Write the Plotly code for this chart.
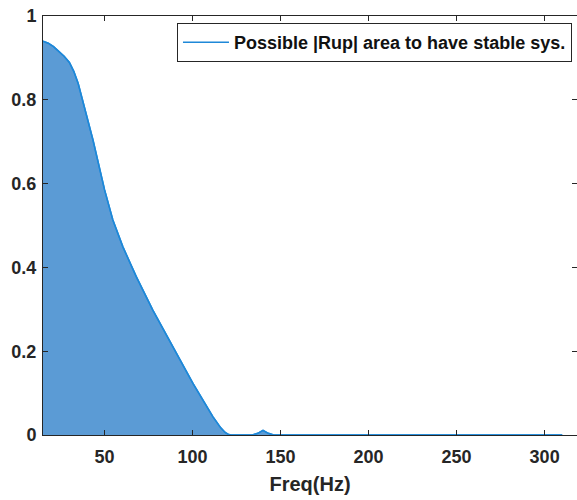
import plotly.graph_objects as go

# Data
freq_hz = [15, 18, 21, 24.4, 27, 30, 32.5, 35, 38.6, 43.4, 50, 54.7, 60.4, 68,
           77.4, 88.8, 100.2, 111.5, 116, 118.5, 120.5, 122, 134, 137, 140, 143,
           146, 200, 250, 300, 310]
rup_area = [0.94, 0.935, 0.927, 0.915, 0.904, 0.889, 0.868, 0.839, 0.784, 0.704,
            0.585, 0.513, 0.449, 0.378, 0.298, 0.211, 0.123, 0.044, 0.017, 0.006,
            0.001, 0.0, 0.0, 0.004, 0.011, 0.004, 0.0, 0.0, 0.0, 0.0, 0.0]
legend_label = "Possible |Rup| area to have stable sys."
x_ticks = [50, 100, 150, 200, 250, 300]
y_ticks = [0, 0.2, 0.4, 0.6, 0.8, 1]

LINE = "#1E88D8"
FILL = "#5B9BD5"
AX = "#262626"
FONT = "Liberation Sans, Arial, sans-serif"

fig = go.Figure()
fig.add_trace(go.Scatter(
    x=freq_hz, y=rup_area, mode="lines", fill="tozeroy",
    fillcolor=FILL, line=dict(color=LINE, width=1.5), showlegend=False,
    hoverinfo="skip"))
fig.add_trace(go.Scatter(
    x=freq_hz, y=rup_area, mode="lines", name=legend_label,
    line=dict(color=LINE, width=1.5), showlegend=True))

axis_common = dict(
    showline=True, linecolor=AX, linewidth=1, mirror="ticks",
    ticks="inside", ticklen=5, tickcolor=AX, tickwidth=1,
    showgrid=False, zeroline=False, automargin=False,
    tickfont=dict(family=FONT, size=18, color=AX, weight="bold"),
)

fig.update_layout(
    width=577, height=500,
    margin=dict(l=43, r=0, t=16, b=65),
    paper_bgcolor="white", plot_bgcolor="white",
    xaxis=dict(range=[15, 318.4], tickvals=x_ticks, ticklabelstandoff=5,
               title=dict(text="Freq(Hz)", standoff=11,
                          font=dict(family=FONT, size=20, color=AX, weight="bold")),
               **axis_common),
    yaxis=dict(range=[0, 1], tickvals=y_ticks, ticklabelstandoff=2, **axis_common),
    legend=dict(x=0.9906, y=0.983, xanchor="right", yanchor="top",
                bgcolor="white", bordercolor=AX, borderwidth=1,
                font=dict(family=FONT, size=18, color="#111111", weight="bold"),
                itemwidth=46),
    showlegend=True,
)

fig.write_html("out.html", config={"displayModeBar": False},
               post_script="document.body.style.margin='0';")
